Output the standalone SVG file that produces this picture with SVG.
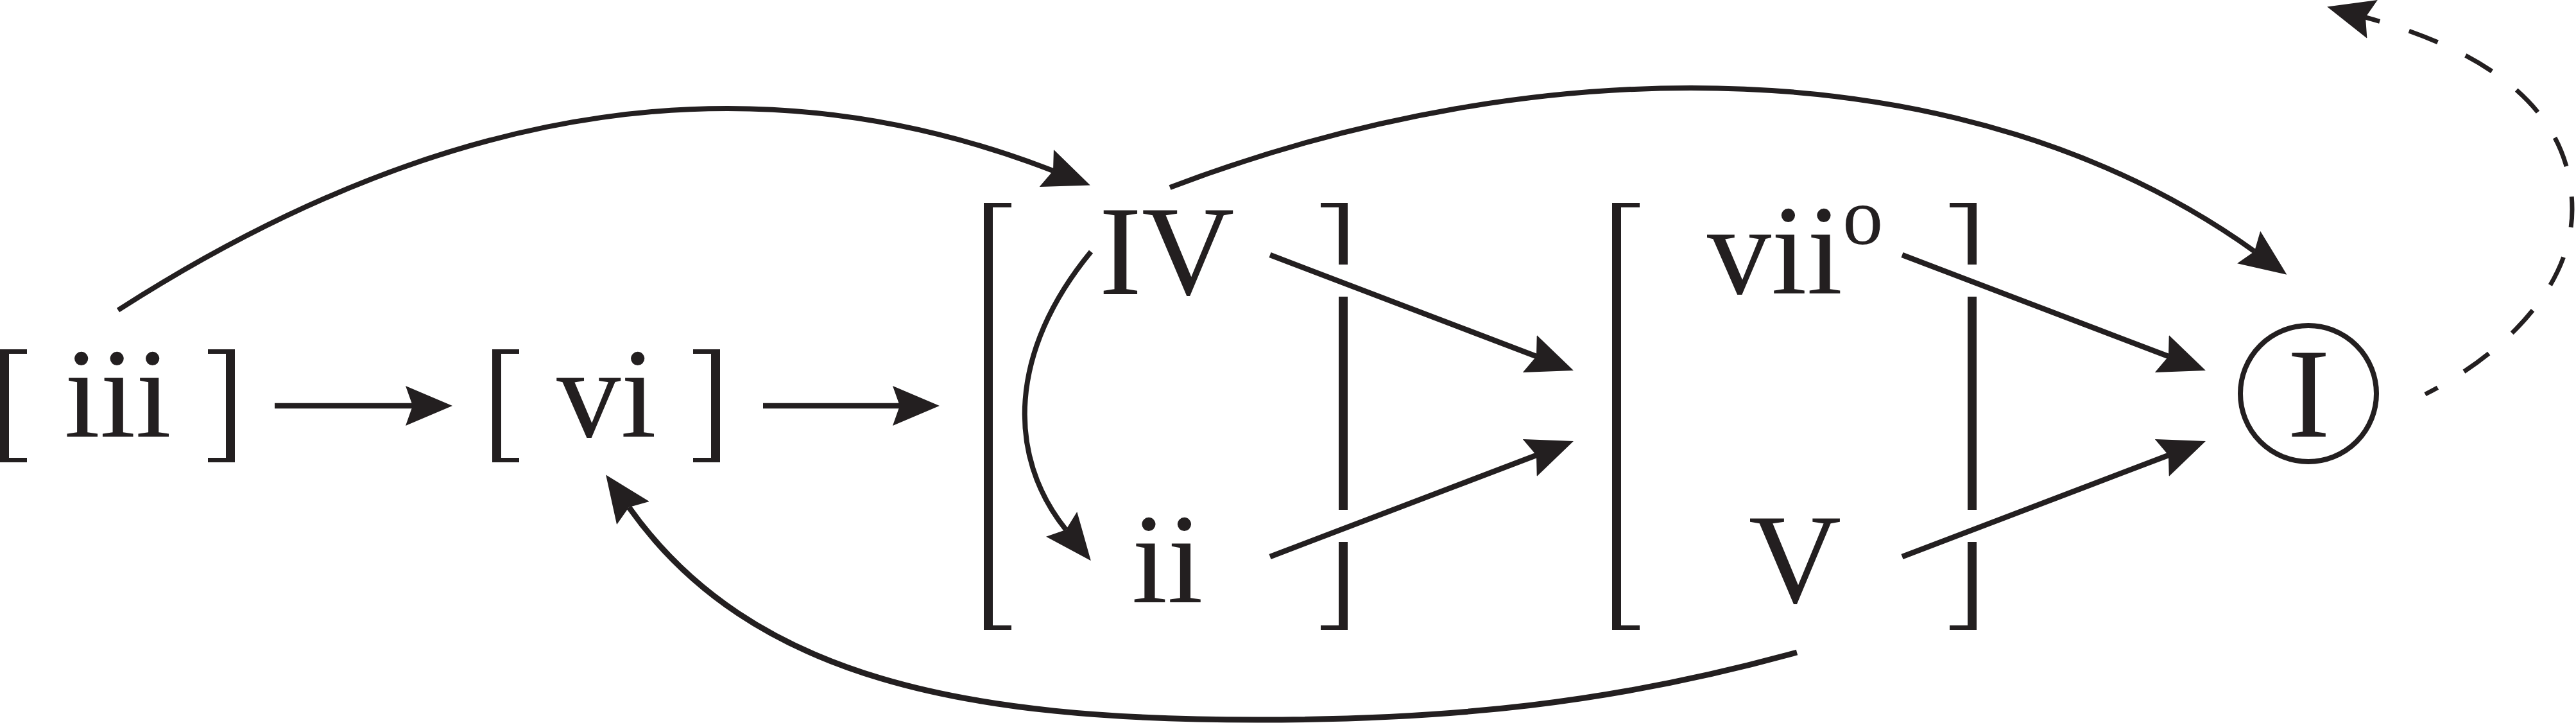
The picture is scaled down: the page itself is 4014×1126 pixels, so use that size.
<svg xmlns="http://www.w3.org/2000/svg" width="4014" height="1126" viewBox="0 0 4014 1126">
<defs>
<style>
.t{font-family:"Liberation Serif","Times New Roman",serif;font-size:200px;fill:#231f20;text-anchor:middle}
.s{font-family:"Liberation Serif","Times New Roman",serif;font-size:200px;fill:#231f20;text-anchor:start}
.b{fill:#231f20}
.c{fill:none;stroke:#231f20;stroke-width:8.5;marker-end:url(#ah)}
.cv{fill:none;stroke:#231f20;stroke-width:8;marker-end:url(#ah)}
.d{fill:none;stroke:#231f20;stroke-width:7;stroke-dasharray:48 48;stroke-dashoffset:26;marker-end:url(#ah)}
</style>
<marker id="ah" markerUnits="userSpaceOnUse" viewBox="0 0 73 62" markerWidth="73" markerHeight="62" refX="11" refY="31" orient="auto">
<path d="M0,0 L73,31 L0,62 L11,31 Z" fill="#231f20"/>
</marker>
</defs>
<rect width="4014" height="1126" fill="#ffffff"/>

<g id="node-iii">
<path class="b" d="M0,544 H42 V551 H14 V713 H42 V720 H0 Z"/>
<path class="b" d="M366,544 H324 V551 H352 V713 H324 V720 H366 Z"/>
<text class="t" x="183.5" y="680">iii</text>
</g>

<g id="node-vi">
<path class="b" d="M767,544 H809 V551 H781 V713 H809 V720 H767 Z"/>
<path class="b" d="M1122,544 H1080 V551 H1108 V713 H1080 V720 H1122 Z"/>
<text class="t" x="945" y="680">vi</text>
</g>

<g id="group-IV-ii">
<path class="b" d="M1533,316 H1576 V323 H1547 V974 H1576 V981 H1533 Z"/>
<path class="b" d="M2100,316 H2058 V323 H2086 V412 H2100 Z"/>
<rect class="b" x="2086" y="462" width="14" height="332"/>
<path class="b" d="M2086,844 V974 H2058 V981 H2100 V844 Z"/>
<g id="node-IV"><text class="t" x="1818" y="458">IV</text></g>
<g id="node-ii"><text class="t" x="1819" y="938">ii</text></g>
</g>

<g id="group-viio-V">
<path class="b" d="M2512,316 H2555 V323 H2526 V974 H2555 V981 H2512 Z"/>
<path class="b" d="M3080,316 H3038 V323 H3066 V412 H3080 Z"/>
<rect class="b" x="3066" y="462" width="14" height="332"/>
<path class="b" d="M3066,844 V974 H3038 V981 H3080 V844 Z"/>
<g id="node-viio"><text class="s" x="2660" y="457">vii<tspan font-size="126" dy="-77">o</tspan></text></g>
<g id="node-V"><text class="t" x="2797" y="938">V</text></g>
</g>

<g id="node-I">
<circle cx="3597" cy="613" r="106" fill="none" stroke="#231f20" stroke-width="8"/>
<text class="t" x="3597.5" y="680">I</text>
</g>

<g id="connectors">
<path class="c" d="M428,632 H643"/>
<path class="c" d="M1189,632 H1402"/>
<path class="c" d="M1979,397 L2394,555"/>
<path class="c" d="M1979,867 L2394,709"/>
<path class="c" d="M2964,397 L3379,555"/>
<path class="c" d="M2964,867 L3379,709"/>
<path class="cv" d="M184,483 C706,148 1187,90 1641,266"/>
<path class="cv" d="M1700,392 C1573,546 1567,708 1661,825"/>
<path class="cv" d="M1823,292 C2403,71 3066,71 3513,391.5"/>
<path class="cv" style="stroke-width:9" d="M2800,1016 C2511,1096 2259,1121 1959,1121 C1509,1121 1171,1059 980,790"/>
<path class="d" d="M3779,614 C3886,560 4008,456 4008,326 C4008,156 3850,72 3686,27"/>
</g>
</svg>
